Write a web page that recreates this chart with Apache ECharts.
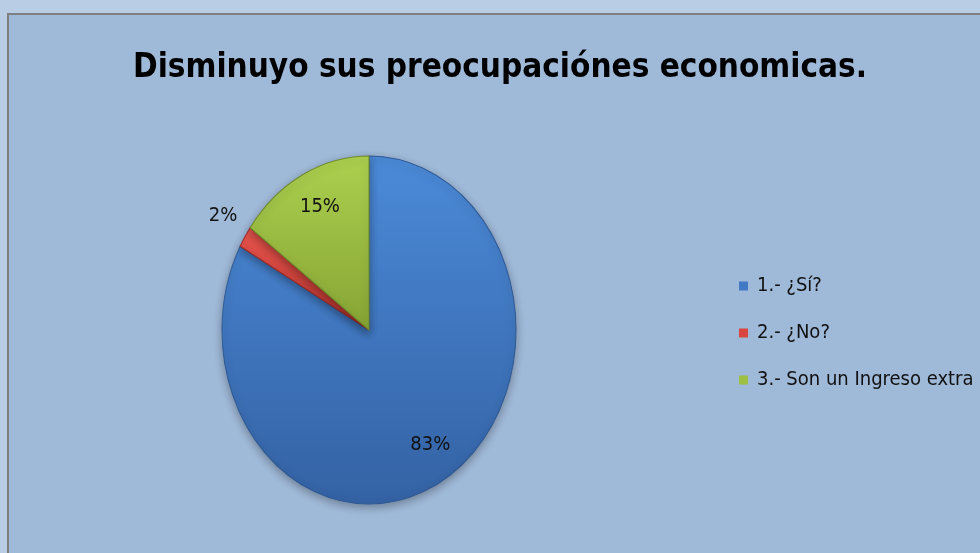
<!DOCTYPE html>
<html>
<head>
<meta charset="utf-8">
<script src="https://cdn.jsdelivr.net/npm/echarts@6/dist/echarts.min.js"></script>
<style>
  html, body { margin: 0; padding: 0; background: #b9cde5; }
  #chart { width: 980px; height: 553px; }
</style>
</head>
<body>
<div id="chart"></div>
<script>
// datos de la grafica
const categories = ['1.- ¿Sí?', '2.- ¿No?', '3.- Son un Ingreso extra'];
const values = [83, 2, 15];
const percentLabels = ['83%', '2%', '15%'];

const baseColors = ['#4279c4', '#d9463f', '#9dbf43'];
const topColors = ['#4b8ad8', '#e8554e', '#acd04f'];
const bottomColors = ['#3462a4', '#b5322c', '#86a434'];
const edgeColors = ['#2f5a96', '#9c2a25', '#6f8a2a'];

// centro y radios de la elipse
const CX = 369, CY = 330, RX = 147, RY = 174;
const FONT = '"DejaVu Sans Condensed", sans-serif';

const total = values.reduce((a, b) => a + b, 0);

function makeSeries(i) {
  return {
    type: 'custom',
    name: categories[i],
    coordinateSystem: 'none',
    itemStyle: { color: baseColors[i] },
    data: [[values[i]]],
    renderItem: function (params, api) {
      let before = 0;
      for (let k = 0; k < i; k++) before += values[k];
      const a0 = -Math.PI / 2 + 2 * Math.PI * before / total;
      const a1 = a0 + 2 * Math.PI * values[i] / total;
      const mid = 2 * Math.PI * (before + values[i] / 2) / total;
      const f = values[i] / total < 0.05 ? 1.2 : 0.78;
      return {
        type: 'group',
        children: [
          {
            type: 'sector',
            x: CX,
            y: CY,
            scaleY: RY / RX,
            shape: { cx: 0, cy: 0, r0: 0, r: RX, startAngle: a0, endAngle: a1, clockwise: true },
            style: {
              fill: {
                type: 'linear', x: 0, y: 0, x2: 0, y2: 1,
                colorStops: [
                  { offset: 0, color: topColors[i] },
                  { offset: 1, color: bottomColors[i] }
                ]
              },
              stroke: edgeColors[i],
              lineWidth: 1,
              shadowBlur: 8,
              shadowColor: 'rgba(0,0,0,0.3)',
              shadowOffsetY: 3
            }
          },
          {
            type: 'text',
            x: CX + Math.sin(mid) * RX * f + 3,
            y: CY - Math.cos(mid) * RY * f - 2,
            style: {
              text: percentLabels[i],
              fill: '#111',
              font: '20px ' + FONT,
              align: 'center',
              verticalAlign: 'middle'
            }
          }
        ]
      };
    }
  };
}

let mychart = echarts.init(document.getElementById('chart'));
let option = {
  backgroundColor: '#b9cde5',
  animation: false,
  title: {
    text: 'Disminuyo sus preocupaciónes economicas.',
    left: 500,
    top: 48,
    textAlign: 'center',
    padding: 0,
    textStyle: {
      fontFamily: FONT,
      fontWeight: 'bold',
      fontSize: 33,
      lineHeight: 40,
      color: '#000'
    }
  },
  graphic: [
    {
      type: 'rect',
      z: -10,
      shape: { x: 8, y: 14, width: 990, height: 560 },
      style: { fill: '#9fb9d8', stroke: '#7f7f7f', lineWidth: 2 }
    }
  ],
  legend: {
    orient: 'vertical',
    left: 739,
    top: 276,
    padding: 0,
    itemWidth: 9,
    itemHeight: 9,
    itemGap: 27,
    icon: 'rect',
    data: categories,
    textStyle: {
      fontFamily: FONT,
      fontSize: 20,
      lineHeight: 19,
      color: '#111',
      padding: [0, 0, 0, 4]
    }
  },
  series: categories.map((c, i) => makeSeries(i))
};
mychart.setOption(option);
</script>
</body>
</html>
